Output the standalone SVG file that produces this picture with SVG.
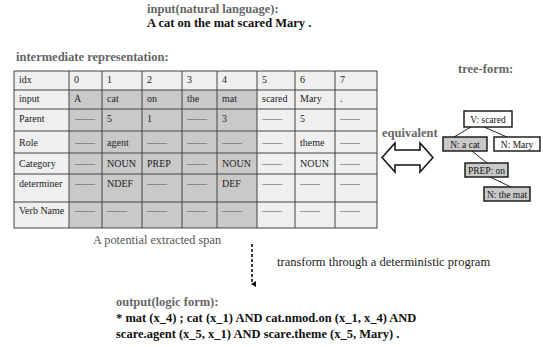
<svg xmlns="http://www.w3.org/2000/svg" width="543" height="347" viewBox="0 0 543 347">
<style>
text{font-family:"Liberation Serif","Times New Roman",serif;}
.title{font-weight:bold;font-size:12.5px;fill:#666;}
.bold{font-weight:bold;font-size:12.5px;fill:#111;}
.cell{font-size:10px;fill:#222;}
.dash{font-size:10px;fill:#555;}
.lt{fill:#efefef;}
.dk{fill:#c9c9c9;}
.grid{stroke:#444;stroke-width:1;fill:none;}
.node{stroke:#111;stroke-width:1.4;}
.ntext{font-size:9.5px;fill:#111;text-anchor:middle;}
.edge{stroke:#111;stroke-width:0.9;fill:none;}
</style>
<defs>
<marker id="ah" markerWidth="6" markerHeight="6" refX="3" refY="5" orient="auto" markerUnits="userSpaceOnUse" viewBox="0 0 6 6">
<path d="M0,1 L3,6 L6,1 Z" fill="#111"/>
</marker>
</defs>
<rect width="543" height="347" fill="#fff"/>

<g id="input-title">
<text class="title" x="147" y="12.5">input(natural language):</text>
<text class="bold" x="147" y="27">A cat on the mat scared Mary .</text>
</g>

<g id="table">
<text class="title" x="16" y="61">intermediate representation:</text>
<rect class="lt" x="14" y="71" width="363" height="157"/>
<rect class="dk" x="69" y="90" width="188" height="138"/>
<g class="grid">
<rect x="14" y="71" width="363" height="157"/>
<path d="M14,90H377M14,109H377M14,131H377M14,153H377M14,174H377M14,202H377"/>
<path d="M69,71V228M102,71V228M142,71V228M182,71V228M217,71V228M257,71V228M295,71V228M335,71V228"/>
</g>
<g class="cell">
<text x="19" y="83">idx</text><text x="74" y="83">0</text><text x="107" y="83">1</text><text x="147" y="83">2</text><text x="187" y="83">3</text><text x="222" y="83">4</text><text x="262" y="83">5</text><text x="300" y="83">6</text><text x="340" y="83">7</text>
<text x="19" y="102">input</text><text x="74" y="102">A</text><text x="107" y="102">cat</text><text x="147" y="102">on</text><text x="187" y="102">the</text><text x="222" y="102">mat</text><text x="262" y="102">scared</text><text x="300" y="102">Mary</text><text x="340" y="102">.</text>
<text x="19" y="122">Parent</text><text x="107" y="122">5</text><text x="147" y="122">1</text><text x="222" y="122">3</text><text x="300" y="122">5</text>
<text x="19" y="146">Role</text><text x="107" y="146">agent</text><text x="300" y="146">theme</text>
<text x="19" y="167">Category</text><text x="107" y="167">NOUN</text><text x="147" y="167">PREP</text><text x="222" y="167">NOUN</text><text x="300" y="167">NOUN</text>
<text x="19" y="187">determiner</text><text x="107" y="187">NDEF</text><text x="222" y="187">DEF</text>
<text x="19" y="214">Verb Name</text>
</g>
<g class="dash">
<text x="75" y="122">——</text><text x="187" y="122">——</text><text x="262" y="122">——</text><text x="340" y="122">——</text>
<text x="75" y="146">——</text><text x="147" y="146">——</text><text x="187" y="146">——</text><text x="222" y="146">——</text><text x="262" y="146">——</text><text x="340" y="146">——</text>
<text x="75" y="167">——</text><text x="187" y="167">——</text><text x="262" y="167">——</text><text x="340" y="167">——</text>
<text x="75" y="187">——</text><text x="147" y="187">——</text><text x="187" y="187">——</text><text x="262" y="187">——</text><text x="300" y="187">——</text><text x="340" y="187">——</text>
<text x="75" y="214">——</text><text x="107" y="214">——</text><text x="147" y="214">——</text><text x="187" y="214">——</text><text x="222" y="214">——</text><text x="262" y="214">——</text><text x="300" y="214">——</text><text x="340" y="214">——</text>
</g>
<text x="93" y="244" style="font-size:12.3px;fill:#555;">A potential extracted span</text>
</g>

<g id="equivalent">
<text class="title" x="382" y="137">equivalent</text>
<path d="M382,157.5 L395,143 L395,150 L420,150 L420,143 L433,157.5 L420,172 L420,165 L395,165 L395,172 Z" fill="#fff" stroke="#111" stroke-width="1.5" stroke-linejoin="miter"/>
</g>

<text class="title" x="458" y="73">tree-form:</text>

<g id="connectors">
<line class="edge" x1="471" y1="127" x2="454" y2="137"/>
<line class="edge" x1="484" y1="127" x2="507" y2="137"/>
<line class="edge" x1="472" y1="151" x2="487" y2="163"/>
<line class="edge" x1="490" y1="177" x2="511" y2="187"/>
<line x1="252" y1="244" x2="252" y2="284" stroke="#111" stroke-width="1.6" stroke-dasharray="3,2" marker-end="url(#ah)"/>
</g>

<g id="node-scared">
<rect class="node" x="464" y="111" width="48" height="16" fill="#fff"/>
<text class="ntext" x="488" y="122.5">V: scared</text>
</g>
<g id="node-cat">
<rect class="node" x="443" y="137" width="44" height="14" fill="#c9c9c9"/>
<text class="ntext" x="465" y="147.5">N: a cat</text>
</g>
<g id="node-mary">
<rect class="node" x="494" y="137" width="46" height="14" fill="#fff"/>
<text class="ntext" x="517" y="147.5">N: Mary</text>
</g>
<g id="node-prep">
<rect class="node" x="465" y="163" width="43" height="14" fill="#c9c9c9"/>
<text class="ntext" x="486.5" y="173.5">PREP: on</text>
</g>
<g id="node-mat">
<rect class="node" x="484" y="187" width="46" height="14" fill="#c9c9c9"/>
<text class="ntext" x="507" y="197.5">N: the mat</text>
</g>

<text x="277" y="266" style="font-size:12.5px;fill:#222;">transform through a deterministic program</text>

<g id="output">
<text class="title" x="116" y="306">output(logic form):</text>
<text class="bold" x="116" y="322">* mat (x_4) ; cat (x_1) AND cat.nmod.on (x_1, x_4) AND</text>
<text class="bold" x="116" y="338">scare.agent (x_5, x_1) AND scare.theme (x_5, Mary) .</text>
</g>
</svg>
